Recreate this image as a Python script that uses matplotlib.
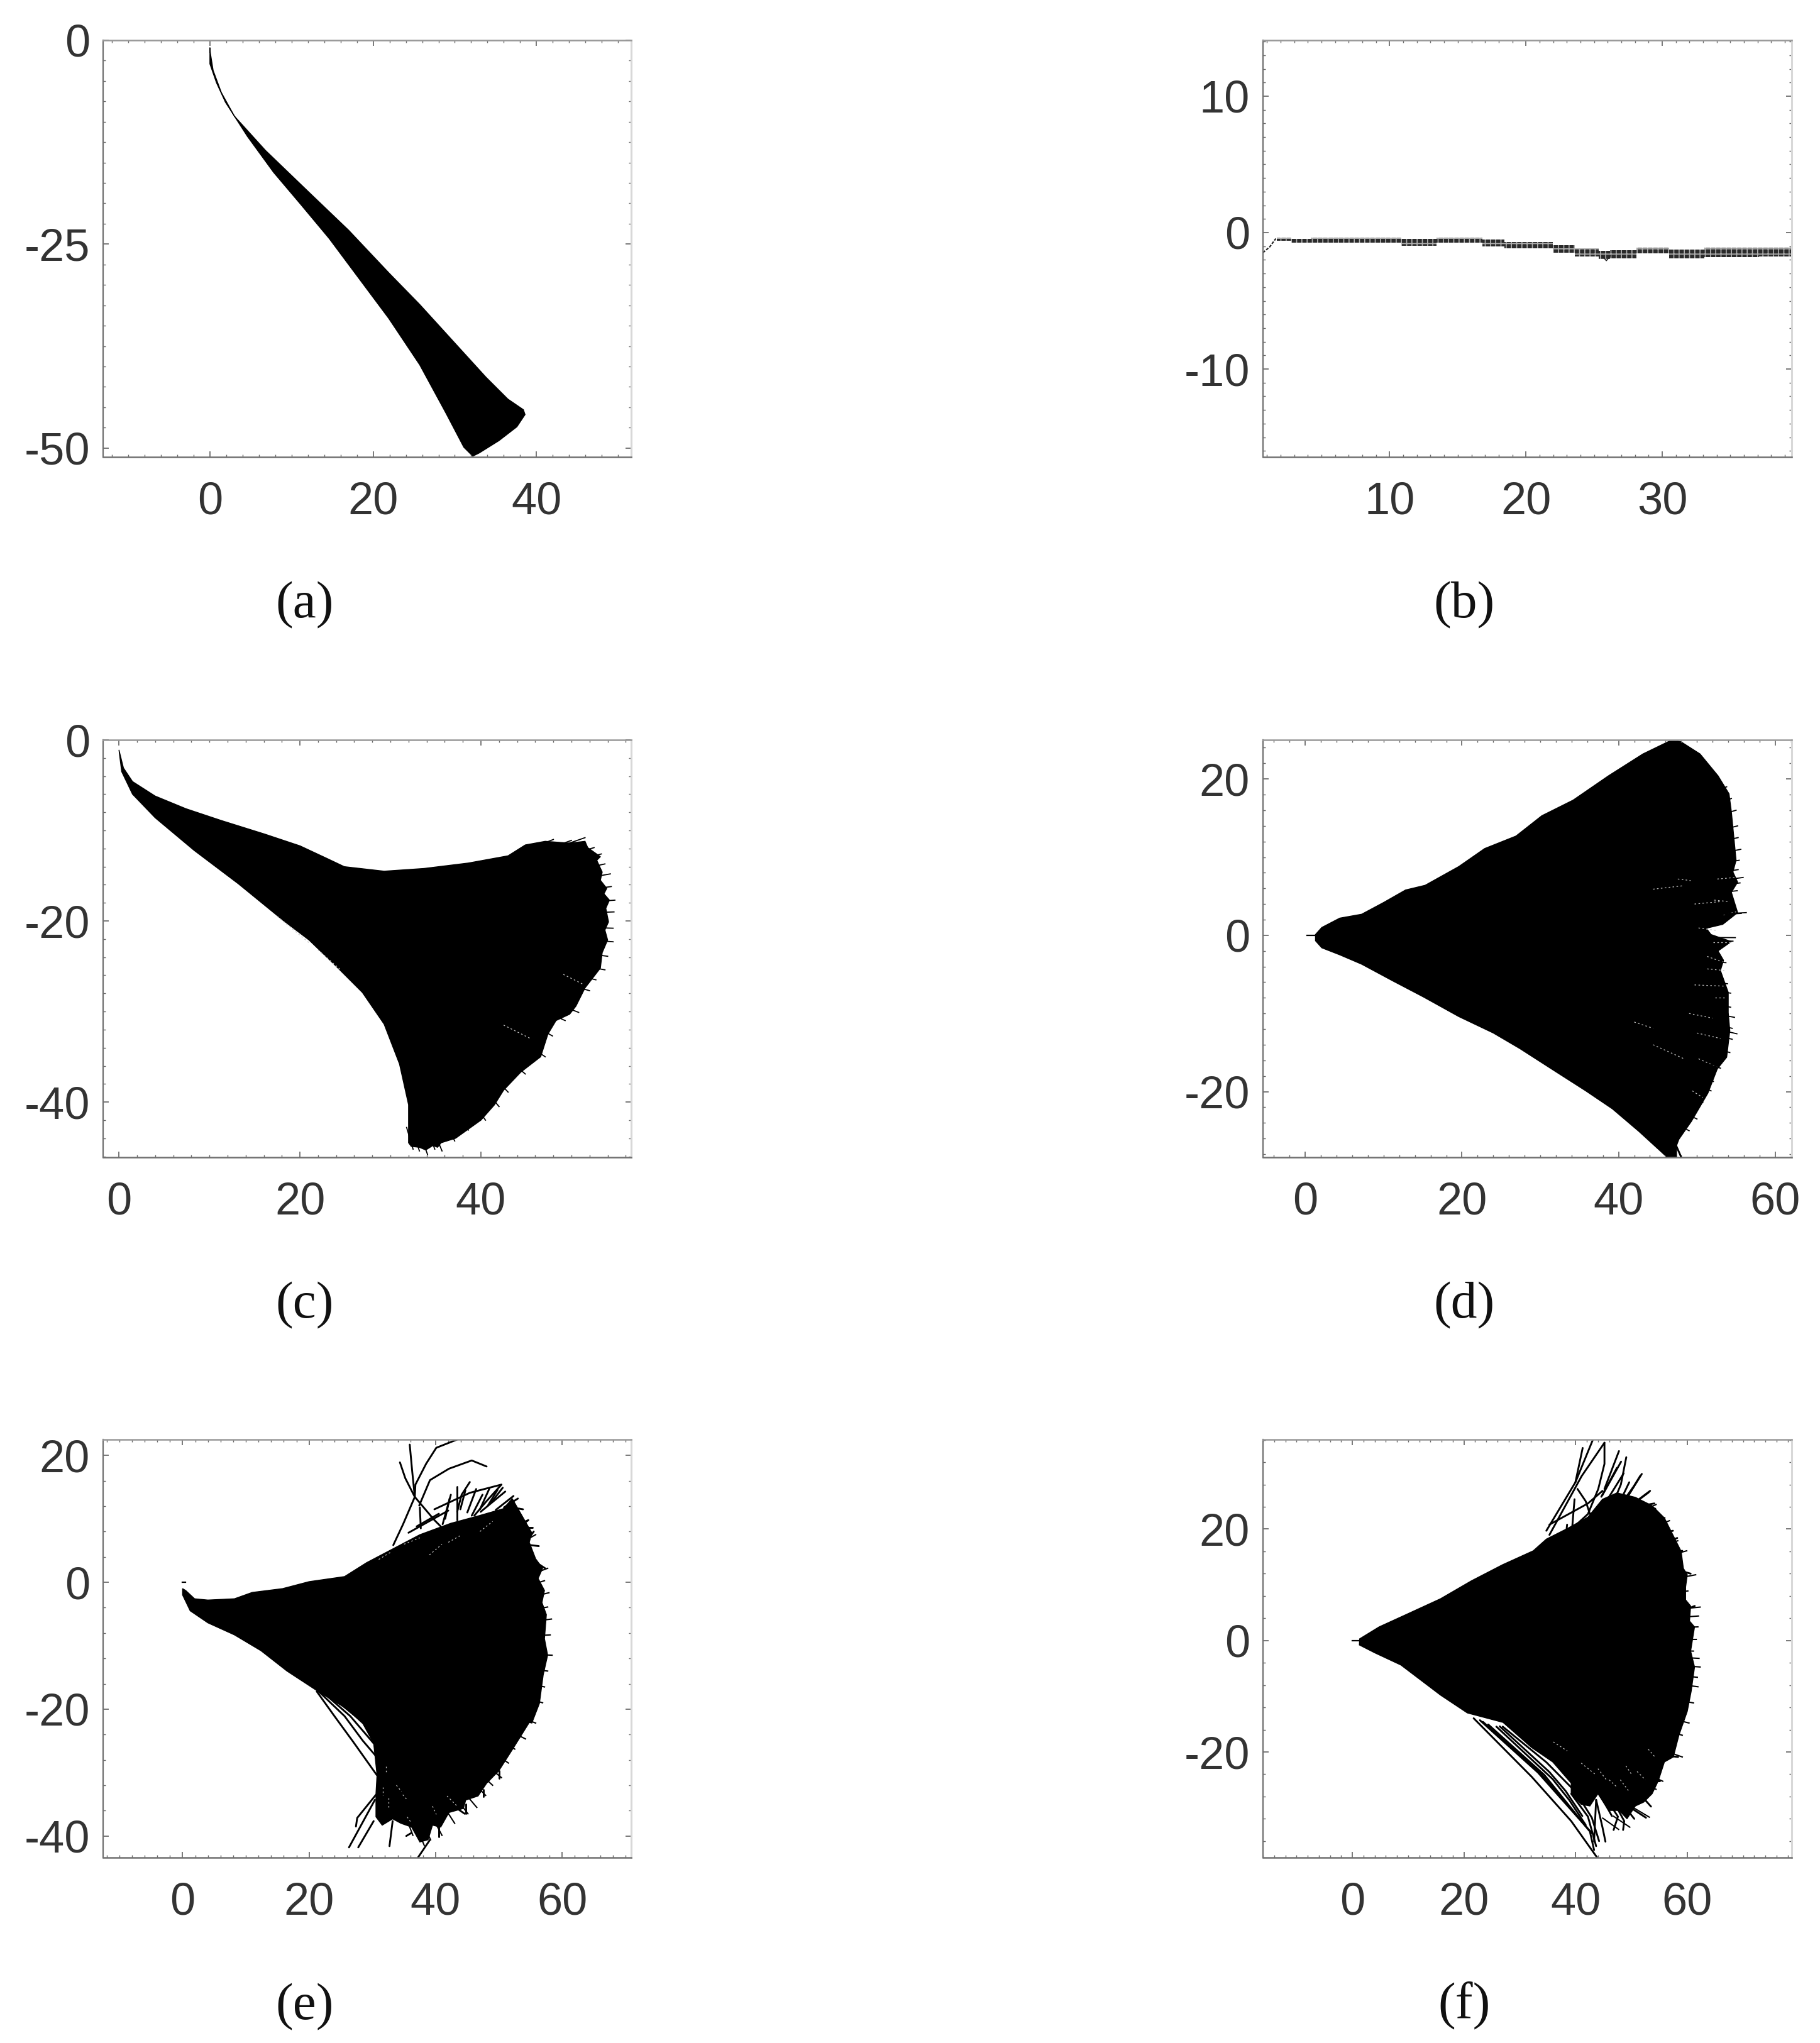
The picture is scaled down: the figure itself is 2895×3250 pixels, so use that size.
import matplotlib
matplotlib.use('Agg')
from matplotlib import pyplot as plt
from matplotlib.ticker import MultipleLocator
import math

W, H = 2895, 3250

# panel a
a_x = [0, 0, 0.8, 1.9, 4.6, 7.8, 11.1, 14.6, 18.1, 21.9, 25.7, 28.9, 31.1, 32.2, 33, 35.4, 37.6, 38.6, 38.4,
       36.5, 33.8, 25.7, 21.9, 17, 12.2, 6.8, 3, 1.4, 0.4, 0.05]
a_y = [-0.9, -2.9, -5.2, -7.6, -11.8, -16.2, -20.1, -24.3, -29, -34.1, -39.8, -45.7, -49.9, -51, -50.6, -49.1, -47.4, -45.9, -45.3,
       -44, -41.3, -32.4, -28.5, -23.3, -18.7, -13.5, -9.3, -6.4, -3.7, -1.5]

# panel b
b_rise_x = [0.71, 1.2, 1.65]
b_rise_y = [-1.47, -1.05, -0.44]
b_x = [1.74, 2.77, 4.23, 10.84, 13.42, 16.81, 18.42, 21.97, 23.58, 25.35, 26.16, 28.1, 30.5, 33.1, 37.1, 39.5]
b_top = [-0.35, -0.44, -0.35, -0.47, -0.35, -0.5, -0.7, -0.94, -1.17, -1.32, -1.29, -1.09, -1.23, -1.09, -1.09, -1.09]
b_bot = [-0.59, -0.76, -0.76, -0.97, -0.76, -1, -1.17, -1.47, -1.76, -1.95, -1.91, -1.53, -1.91, -1.82, -1.76, -1.76]
b_dip_x = [25.6, 25.9, 26.2]
b_dip_y = [-1.7, -2.06, -1.7]

# panel c
c_x = [0, 0.5, 1.5, 4, 7.4, 11.3, 16.1, 20, 23, 24.9, 29.3, 33.7, 38.6, 43, 44.9, 47.1, 49.8, 51.5, 51.8, 53.2, 52.8,
       53.4, 53.2, 53.9, 53.6, 54.2, 53.8, 54.1, 53.7, 54, 53.4, 53.2, 52.2, 51.5, 50.5, 49.8, 48.3, 47.4, 46.6,
       44.4, 42.5, 41.5, 40, 37.2, 35.6, 35.2, 34.7, 33.9, 33.2, 32.3, 32,
       32, 31, 29.3, 26.9, 24, 21, 18.1, 13.2, 8.3, 4, 1.5, 0.3]
c_y = [-1.1, -3.1, -4.6, -6.2, -7.6, -8.9, -10.4, -11.7, -13.1, -14, -14.5, -14.2, -13.6, -12.8, -11.6, -11.2, -11.4, -11.2, -11.9, -12.9, -13.3,
       -14.6, -15.5, -16.4, -17, -17.7, -18.6, -20.1, -21, -22.1, -23.5, -25.2, -26.5, -27.4, -29.4, -30.3, -31, -32.5, -35,
       -36.7, -38.7, -40.3, -42, -44, -44.5, -45, -44.8, -45.3, -45, -44.9, -44.5,
       -40.3, -35.8, -31.4, -27.9, -25, -22.1, -19.9, -15.9, -12.2, -8.6, -6, -3.5]
c_gaps = [([49.1, 51.3], [-25.9, -27]), ([42.5, 45.5], [-31.5, -33]), ([17.5, 21], [-19.5, -22.4]), ([22, 24.5], [-23.2, -25.4])]
c_tips_x = [51.5, 52.5, 53.3, 53.7, 54.3, 54.4, 54.8, 54.7, 54.6, 54.6, 54, 53.7, 52.7, 52, 50.8, 49.3, 47.9, 47.1, 44.9, 43, 42,
            40.5, 38.6, 37.1, 35.7, 34.9, 34.1, 33.2, 32.5, 48, 46.5, 50]
c_tips_y = [-10.8, -11.9, -12.6, -13.7, -14.8, -16.2, -17.7, -19, -20.8, -22.3, -23.9, -25.4, -26.5, -27.7, -30.1, -31, -32.7, -35, -36.9, -38.9, -40.5,
            -42, -43.1, -44.3, -45.4, -45.2, -45.8, -45.4, -45.2, -11, -11.4, -11.1]

# panel d
d_x = [1.3, 1.3, 2.1, 4.4, 7.2, 10, 12.8, 15.3, 19.6, 22.9, 26.9, 30.2, 34.2, 38.7, 43.1, 46.8, 47.9,
       50.4, 52.7, 54.1, 54.4, 54.7, 55, 54.6, 55.2, 54.4, 55.2, 53.3, 51.2, 51.8, 54.4, 52.7, 53.4, 53, 54, 54, 54.2, 53.8,
       52.6, 51.4, 49.3, 47.7, 47.4, 47.4, 46.2,
       42.6, 39.2, 35.8, 31.9, 27.4, 24, 19.6, 15.1, 11.1, 7.2, 4.4, 2.1]
d_y = [-0.7, 0.1, 1, 2.2, 2.7, 4.2, 5.8, 6.4, 8.8, 11.1, 12.7, 15.3, 17.3, 20.4, 23.2, 25, 24.8,
       23.2, 20.4, 18.1, 15.8, 12.7, 9.6, 8.1, 6.8, 5.5, 2.9, 1.4, 0.9, 0.1, -0.8, -2, -3.2, -4.5, -7.3, -9.9, -12.2, -15.6,
       -17.1, -20.2, -23.8, -26.1, -26.9, -28.4, -28.4,
       -25.1, -22.2, -19.9, -17.4, -14.5, -12.5, -10.4, -7.9, -5.8, -3.7, -2.5, -1.6]
d_stub_x = [0.2, 1.3]
d_stub_y = [0, 0]
d_gaps = [([44.4, 48.36], [5.9, 6.35]), ([47.56, 49.2], [7.2, 7]), ([49.7, 52.9], [4, 4.3]), ([50.2, 52.6], [0.94, 0.6]),
          ([51.3, 53.5], [-2.7, -3.5]), ([49.7, 53.4], [-6.35, -6.5]), ([42, 44.4], [-11.1, -11.9]), ([44.4, 48.36], [-14, -15.8]),
          ([50.2, 52.9], [-15.8, -17]), ([49.4, 50.75], [-19.9, -20.75]), ([52.6, 55], [7.2, 7.4]), ([52.2, 54.2], [4.5, 4.3]),
          ([53.4, 55], [2.6, 3]), ([52.1, 54.5], [-0.9, -0.9]), ([51.3, 53.5], [-4.3, -4.5]), ([52.3, 53.7], [-8, -8]),
          ([49, 52], [-10, -10.6]), ([50, 53], [-12.5, -13.2])]
d_strands = [([45.7, 46.2], [-27.1, -28.4]), ([46.5, 47], [-27, -28.4]), ([47.3, 48], [-26.8, -28.4])]
d_tips_x = [55.26, 55.4, 55.26, 55.5, 55.13, 55.66, 54.6, 53.7, 53.9, 54.3, 54.3, 54.5, 54.5, 54.2, 53, 52.1, 51.8, 50.75, 50, 49, 47.56,
            55.6, 55.2, 55, 54.4, 53.8, 55.9, 56.3, 54.9, 54.8, 55.1]
d_tips_y = [12.5, 9.6, 8.4, 6.7, 5.7, 2.8, -0.75, -3.5, -6.2, -7.4, -9.2, -11.9, -13.3, -15, -17, -18.7, -19.9, -21.4, -23.5, -25, -25.8,
            11, 14, 16, 17.5, 19, 7.4, 2.9, -0.3, -10.5, -12.6]

# panel e
e_x = [0, 0.5, 1.9, 4, 8.2, 11, 15.8, 20, 25.6, 29.1, 33.3, 37.5, 42.4, 46.5, 50.7, 52.1, 54.1, 55.2, 54.8, 55.8, 56.9, 56.2, 57.2, 56.8,
       57.5, 57.2, 57.7, 57, 56.4, 55.2, 54.8, 52.3, 50, 48.05, 46.7, 44.75, 44.4, 42.1, 40.8, 39.5, 38.8, 37.5, 36.2, 34.5, 33.2, 31.55, 30.56, 30.56, 30.73,
       30.2, 28.5, 26, 21.4, 16.5, 12.4, 8.2, 4, 1.2, 0]
e_y = [-1, -1.3, -2.6, -2.8, -2.6, -1.6, -1, 0.1, 0.9, 3.1, 5.3, 7.5, 9.3, 10.4, 11.6, 13.2, 9.7, 7.8, 6.3, 3.7, 2.2, 0.6, -1.3, -3.2,
       -5.1, -8.9, -11.5, -14.6, -19.1, -22.2, -22.1, -26.1, -29.7, -31.7, -33.7, -34.34, -35.66, -36.3, -38.6, -38.3, -40.6, -40.95, -38.6, -38, -37.3, -38.3, -36.98, -33.35, -30.37,
       -25.4, -22.3, -20, -17.2, -14, -10.8, -8.3, -6.4, -4.5, -2]
e_stub_x = [0, 0.5]
e_stub_y = [0, 0]
e_strands = [
    ([33.3, 34.85, 36.7, 36.3, 35.9], [5.85, 9.15, 13.45, 17.4, 21.7]),
    ([34.35, 35.2, 36.7, 39.8, 40.8], [18.9, 16.4, 13.45, 9.8, 8.8]),
    ([36.7, 36.8, 38.5, 40.1, 43.4], [13.45, 15.4, 18.7, 21.2, 22.5]),
    ([37.4, 39.1, 42.1, 45.7, 48.05], [12.1, 16.1, 17.9, 19.2, 18.25]),
    ([37.5, 37.65], [11.8, 8.5]),
    ([39.8, 45.4, 50.4, 48.05, 46.1], [11.5, 14.1, 15.4, 12.8, 10.5]),
    ([41.1, 42.4], [9.15, 13.8]),
    ([43.4, 43.4], [15.1, 9.8]),
    ([45.4, 44.1, 43.4], [15.8, 13.8, 11.1]),
    ([51, 47.1], [14.3, 11.1]),
    ([47.4, 45.7], [13.8, 10.5]),
    ([48.5, 47], [14.8, 11.5]),
    ([49.8, 48.2], [14.6, 12]),
    ([50.6, 48.8], [14.9, 12.6]),
    ([46.4, 45], [14.7, 11]),
    ([44.7, 43.9], [14.5, 11.5]),
    ([42.2, 41.5], [13.2, 10]),
    ([52.3, 49.5], [13.6, 11.4]),
    ([53, 50.8], [13.2, 11.8]),
    ([35.7, 42], [7.8, 11.3]),
    ([37, 40.5], [8.8, 10.8]),
    ([53.8, 52], [11.5, 11.8]),
    ([54.65, 53.3], [9.8, 9.2]),
    ([55.3, 53], [8.65, 8.65]),
    ([57.3, 55.3], [2.2, 3.5]),
    ([56.3, 55], [5.7, 5.85]),
    ([55.5, 54.65], [8, 6.8]),
    ([21.2, 24, 27, 30.7], [-17.2, -21.1, -25.2, -30.4]),
    ([21.5, 25.6, 28.5, 30.56], [-17.2, -21.1, -25, -27.4]),
    ([22, 26.5, 29, 30.2], [-17.2, -21.1, -24, -25.4]),
    ([22.5, 27.3, 29.5], [-17.2, -21.1, -23]),
    ([30.56, 27.6, 27.4], [-33.5, -37.15, -38.5]),
    ([30.4, 26.3], [-34.3, -41.8]),
    ([30.2, 27.76], [-37.65, -41.8]),
    ([33.2, 32.7], [-37.65, -41.6]),
    ([39.1, 37.2], [-40.6, -43.4]),
    ([36.2, 35.35], [-39.5, -40]),
    ([40.46, 40.46], [-38.3, -40.1]),
    ([44.75, 44.75], [-35, -36.5]),
    ([42.4, 44.6], [-35, -36.5]),
    ([47.56, 47.56], [-32.7, -33.8]),
    ([50, 50], [-29.7, -30.9]),
]
e_gaps = [([32.2, 32.2], [-29, -29.9]), ([31.7, 31.7], [-32.3, -33.6]), ([32.5, 32.5], [-34, -35.6]), ([35.5, 36.2], [-37, -38]),
          ([39.5, 40.1], [-35.3, -36.6]), ([41.8, 43.4], [-33.7, -35.3]), ([33.8, 34.6], [-32, -33]), ([34.8, 35.5], [-33.5, -34.3]),
          ([39, 41], [4.3, 6]), ([35, 37.5], [6, 7]), ([42, 44], [6.3, 7.4]), ([47, 49], [8, 9.6]), ([31, 33], [3.6, 4.8])]
e_tips_x = [57.7, 57.2, 57.9, 57.7, 58.3, 58.1, 58.4, 57.7, 57.2, 56.9, 55.8, 54.2, 52.5, 50.4, 47.9, 45.1, 41,
            55.8, 54.6, 53.2, 34, 31.9, 36.4, 38.2, 39.2, 51.5, 49, 46.5, 43]
e_tips_y = [2.2, 0.25, -1.65, -3.9, -5.8, -8.3, -11.5, -14, -16.5, -19, -22.2, -24.7, -26.3, -30.8, -33.6, -36.5, -39.9,
            7.5, 9.7, 11.6, -37.4, -37.4, -39.9, -41.5, -40.6, -28.5, -32, -35.5, -38]

# panel f
f_x = [1.3, 4.8, 9.5, 15.8, 21.3, 26.9, 32.4, 34.75, 38.5, 42.2, 44.8, 47.4, 50.7, 53.7, 55.9, 57.8, 58.9, 59.3, 60, 59.7, 59.7, 60.6, 60.4,
       61.3, 60.6, 61.3, 60.7, 60, 58.5, 57.5, 55.9, 54.8, 53.7, 52.2, 50.7, 49.2, 47.8, 45.9, 44, 42.55, 41, 39.2, 39.2, 35.9, 32.1, 27,
       20.6, 15.8, 8.7, 4, 1.26]
f_y = [0.3, 2.45, 4.6, 7.5, 10.7, 13.6, 16.1, 18.2, 20.1, 22.15, 25.35, 26.5, 25.7, 24.2, 22, 18.2, 16, 12.95, 11.8, 9.6, 7.3, 6.2, 3.5,
       2.45, -1.9, -4.75, -9.1, -12.7, -17, -20.9, -21.8, -25.2, -27.5, -29, -29.7, -32, -30.5, -30.5, -27.5, -29.7, -29.4, -27.5, -25.6, -21.8, -19.2, -14.7,
       -13, -9.8, -4.4, -2.2, -0.8]
f_stub_x = [0, 1.3]
f_stub_y = [0, 0]
f_strands = [
    ([34.75, 39.96, 43.1], [19.7, 28.4, 36.07]),
    ([39.96, 41.26], [28.4, 34.56]),
    ([35.3, 41.07, 45.16], [18.96, 29.5, 35.5]),
    ([45.16, 45.16, 44.05, 42.2, 39.8], [35.5, 31.7, 27.2, 22.7, 20.5]),
    ([40.33, 41.8, 42.56], [27.2, 25, 22.7]),
    ([35.3, 42.2, 44.8], [20.8, 24.6, 26.85]),
    ([39.8, 39.4], [25.35, 20.5]),
    ([38.47, 38.3], [20.8, 19.3]),
    ([47.76, 45.16], [34, 27.2]),
    ([49.07, 48.1, 47], [32.9, 28, 25.35]),
    ([48.14, 44.8], [32.1, 26.1]),
    ([47.4, 44.6], [31, 25.8]),
    ([48.6, 46], [30, 25.8]),
    ([51.85, 49.25, 48.14], [29.9, 25.7, 23.85]),
    ([51.6, 49, 47.9], [29.6, 25.4, 23.6]),
    ([53.34, 48.88], [26.86, 23.5]),
    ([53.1, 48.6], [26.6, 23.2]),
    ([49.6, 48.5], [28.4, 26.1]),
    ([50.3, 48.5], [27.5, 25]),
    ([54.1, 51.85], [24.6, 24.2]),
    ([54.27, 51.85], [23.66, 23.5]),
    ([55.94, 53.7], [22, 20.8]),
    ([57.43, 55.57], [19.7, 19.3]),
    ([58.2, 55.94], [18.4, 17.5]),
    ([59.1, 57.06], [16.1, 15.8]),
    ([60.6, 58.5], [12, 12.6]),
    ([61.33, 59.3], [6.2, 5.4]),
    ([21.73, 32.14, 39.2, 43.85], [-13.95, -24.47, -32.4, -38.95]),
    ([22.85, 33.26, 42.92], [-14.3, -23.7, -34.6]),
    ([23.4, 33.8, 42.7], [-14.6, -23.9, -34.4]),
    ([24.34, 34.37, 42.55, 43.3], [-15.07, -24.1, -34.25, -37.6]),
    ([25.8, 35.86, 38.83, 41.8], [-15.45, -24.85, -28.6, -33.1]),
    ([26.4, 35.3, 38.2, 41.2], [-15.4, -23.6, -27, -31.5]),
    ([26.94, 34.75, 39.2], [-15.45, -21.84, -26.35]),
    ([28.8, 35.86, 39.2], [-15.8, -21.1, -24.85]),
    ([39.2, 42.2, 43.67], [-27.5, -31.6, -36.9]),
    ([40.2, 42.9, 44.2], [-27.5, -31.8, -36]),
    ([43.67, 44.8, 45.34], [-28.6, -33.5, -36.1]),
    ([43.67, 43.3], [-28.6, -36.1]),
    ([45.15, 47.57, 46.8], [-27.85, -31.6, -34]),
    ([46.64, 48.7, 48.5], [-28.6, -32.4, -34]),
    ([44, 46.5], [-27, -31.5]),
    ([47, 50.5], [-27.5, -32]),
    ([49.99, 52.6], [-30.1, -31.8]),
    ([51, 53.5], [-27, -29.8]),
    ([53.7, 55], [-25.2, -25.2]),
    ([56.7, 58.35], [-20.7, -20.9]),
]
f_gaps = [([41, 43.5], [-22, -24]), ([44, 45.5], [-23, -25]), ([46, 47.5], [-25, -26.4]), ([48, 49.5], [-25, -27]),
          ([51, 52.5], [-23.5, -25]), ([36, 38.5], [-18.2, -19.8]), ([53, 54.3], [-19.5, -21]), ([49, 50], [-22.5, -24])]
f_tips_x = [61.5, 60.1, 62.3, 61.9, 61.1, 62.3, 61.9, 61.1, 60.3, 59.1, 57.2, 59.1, 55.6, 54.4, 53.2, 49.7, 47.7,
            59.9, 58.3, 56.8, 54.4, 62, 61.6, 62.1, 61.8]
f_tips_y = [11.8, 8.9, 6, 2.45, -1.9, -4.75, -8.3, -11.2, -14.8, -17, -19.9, -20.9, -25.25, -26.7, -31.7, -33.5, -33.9,
            16.1, 17.9, 21.5, 24.4, 4.4, 0.2, -3.2, -6.6]

# ticks and labels
a_xticks, a_yticks = [0, 20, 40], [0, -25, -50]
b_xticks, b_yticks = [10, 20, 30], [10, 0, -10]
c_xticks, c_yticks = [0, 20, 40], [0, -20, -40]
d_xticks, d_yticks = [0, 20, 40, 60], [20, 0, -20]
e_xticks, e_yticks = [0, 20, 40, 60], [20, 0, -20, -40]
f_xticks, f_yticks = [0, 20, 40, 60], [20, 0, -20]
captions = ['(a)', '(b)', '(c)', '(d)', '(e)', '(f)']


def panel(box, xlim, ylim, xticks, yticks, xminor, yminor):
    left, right, top, bottom = box
    ax = fig.add_axes([left / W, 1 - bottom / H, (right - left) / W, (bottom - top) / H])
    ax.set_xlim(xlim)
    ax.set_ylim(ylim)
    ax.set_xticks(xticks)
    ax.set_yticks(yticks)
    ax.set_xticklabels([str(t) for t in xticks])
    ax.set_yticklabels([str(t) for t in yticks])
    ax.xaxis.set_minor_locator(MultipleLocator(xminor))
    ax.yaxis.set_minor_locator(MultipleLocator(yminor))
    ax.tick_params(which='major', direction='in', length=6.5, width=1.1, color='#555555', top=True, right=True,
                   labelsize=52, labelcolor='#333333')
    ax.tick_params(axis='x', which='major', pad=28)
    ax.tick_params(axis='y', which='major', pad=15)
    ax.tick_params(which='minor', direction='in', length=3, width=1.0, color='#666666', top=True, right=True)
    ax.spines['left'].set(color='#707070', linewidth=1.6)
    ax.spines['bottom'].set(color='#707070', linewidth=1.8)
    ax.spines['top'].set(color='#999999', linewidth=1.8)
    ax.spines['right'].set(color='#d8d8d8', linewidth=2.2)
    return ax


def body(ax, xs, ys, strands=(), gaps=()):
    ax.fill(xs, ys, color='black', linewidth=1.0)
    for sx, sy in strands:
        ax.plot(sx, sy, color='black', linewidth=2.1, solid_capstyle='round')
    for gx, gy in gaps:
        ax.plot(gx, gy, color='#c4c4c4', linewidth=0.9, linestyle=(0, (2, 3)))


def spikes(ax, tips_x, tips_y, origin, length, width=1.3):
    for tx, ty in zip(tips_x, tips_y):
        dx, dy = origin[0] - tx, origin[1] - ty
        d = math.hypot(dx, dy)
        ax.plot([tx, tx + dx / d * length], [ty, ty + dy / d * length], color='black', linewidth=width)


plt.rcParams['font.family'] = ['Liberation Sans', 'DejaVu Sans']
plt.rcParams['hatch.linewidth'] = 1.2

fig = plt.figure(figsize=(W / 100, H / 100), dpi=100)

ax_a = panel((164, 1004, 64, 727), (-13.08, 51.6), (-51.1, 0), a_xticks, a_yticks, 2, 2.5)
body(ax_a, a_x, a_y)

ax_b = panel((2009, 2850, 64, 727), (0.71, 39.5), (-16.45, 14.1), b_xticks, b_yticks, 1, 1)
ax_b.plot(b_rise_x, b_rise_y, color='#222222', linewidth=1.6, linestyle=(0, (2, 1)))
ax_b.fill_between(b_x, b_bot, b_top, step='post', facecolor='#2a2a2a', edgecolor='#b0b0b0', hatch='++', linewidth=0)
ax_b.plot(b_dip_x, b_dip_y, color='#222222', linewidth=1.2)

ax_c = panel((164, 1004, 1177, 1841), (-1.75, 56.6), (-46.1, 0), c_xticks, c_yticks, 2, 2)
body(ax_c, c_x, c_y, gaps=c_gaps)
spikes(ax_c, c_tips_x, c_tips_y, (25, -20), 2.5)

ax_d = panel((2009, 2850, 1177, 1841), (-5.4, 62.1), (-28.4, 25), d_xticks, d_yticks, 2, 2)
body(ax_d, d_x, d_y, strands=d_strands, gaps=d_gaps)
spikes(ax_d, d_tips_x, d_tips_y, (1, 0), 3)
ax_d.plot(d_stub_x, d_stub_y, color='black', linewidth=1.6)

ax_e = panel((164, 1004, 2290, 2955), (-12.56, 70.9), (-43.4, 22.5), e_xticks, e_yticks, 2, 4)
body(ax_e, e_x, e_y, strands=e_strands, gaps=e_gaps)
spikes(ax_e, e_tips_x, e_tips_y, (25, -10), 3, width=1.5)
ax_e.plot(e_stub_x, e_stub_y, color='black', linewidth=1.6)

ax_f = panel((2009, 2850, 2290, 2955), (-16, 78.7), (-38.95, 36.07), f_xticks, f_yticks, 2, 4)
body(ax_f, f_x, f_y, strands=f_strands, gaps=f_gaps)
spikes(ax_f, f_tips_x, f_tips_y, (0, 0), 3.5, width=1.5)
ax_f.plot(f_stub_x, f_stub_y, color='black', linewidth=1.6)

# captions under the panels
cap_x = [485, 2329, 485, 2329, 485, 2329]
cap_y = [963, 963, 2077, 2077, 3193, 3190]
for cap, cx, cy in zip(captions, cap_x, cap_y):
    fig.text(cx / W, 1 - cy / H, cap, ha='center', va='center', fontsize=60,
             family=['Liberation Serif', 'DejaVu Serif'], color='#111111')

fig.savefig('out.png', dpi=100)
